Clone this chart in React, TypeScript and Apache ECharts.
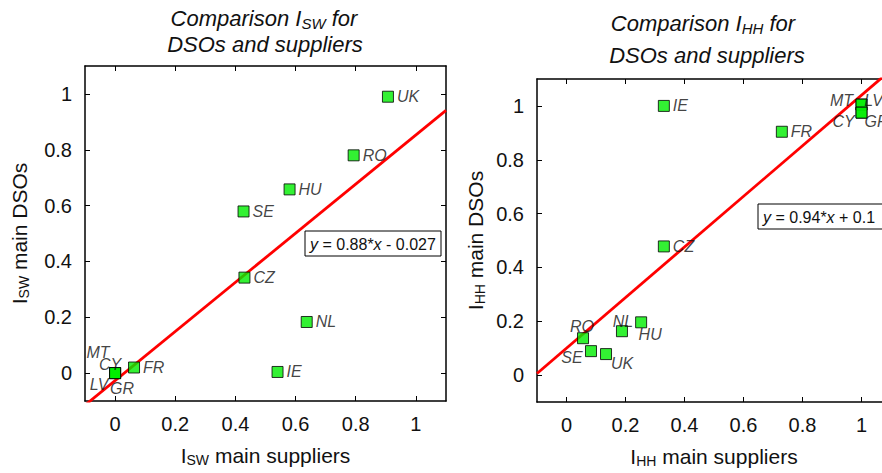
import React, { useEffect, useRef } from "react";
import * as echarts from "echarts";

// ---- Data ----
const SW_COUNTRIES = ["UK", "RO", "HU", "SE", "CZ", "NL", "IE", "FR", "MT", "CY", "LV", "GR"];
const SW_SUPPLIERS = [0.907, 0.793, 0.58, 0.427, 0.43, 0.637, 0.54, 0.063, 0, 0, 0, 0];
const SW_DSOS = [0.99, 0.78, 0.658, 0.579, 0.342, 0.183, 0.004, 0.02, 0, 0, 0, 0];
const SW_FIT = { slope: 0.88, intercept: -0.027 };

const HH_COUNTRIES = ["IE", "MT", "LV", "CY", "GR", "FR", "CZ", "RO", "SE", "UK", "NL", "HU"];
const HH_SUPPLIERS = [0.33, 1, 1, 1, 1, 0.73, 0.33, 0.056, 0.083, 0.134, 0.188, 0.253];
const HH_DSOS = [1.0, 1.005, 1.005, 0.975, 0.975, 0.904, 0.478, 0.137, 0.089, 0.078, 0.163, 0.196];
const HH_FIT = { slope: 0.94, intercept: 0.1 };

const TICK_VALUES = [0, 0.2, 0.4, 0.6, 0.8, 1];
const TICK_LABELS = ["0", "0.2", "0.4", "0.6", "0.8", "1"];
const AXIS_MIN = -0.1;
const AXIS_MAX = 1.1;

// ---- Styles ----
const FONT = "'Liberation Sans', Arial, Helvetica, sans-serif";
const TEXT = "#111111";
const GREEN = "#00ee00";

const SW_LABEL_POS: Record<string, any> = {
  UK: "right", RO: "right", HU: "right", SE: "right", CZ: "right", NL: "right", IE: "right", FR: "right",
  MT: [-17, -21], CY: [-5, -9], LV: [-16, 11], GR: [7, 15],
};
const HH_LABEL_POS: Record<string, any> = {
  IE: "right", FR: "right", CZ: "right",
  MT: [-20, -4], LV: [12, -4], CY: [-18, 9], GR: [15, 9],
  RO: [-1, -12], NL: [1, -10], HU: [9, 12], SE: [-19, 6], UK: [16, 9],
};

function buildPoints(names: string[], xs: number[], ys: number[], pos: Record<string, any>) {
  return names.map((n, i) => {
    const p = pos[n];
    const label =
      typeof p === "string"
        ? { show: true, position: p, distance: 3 }
        : { show: true, position: "inside", offset: p };
    return { name: n, value: [xs[i], ys[i]], label };
  });
}

function fitLine(f: { slope: number; intercept: number }) {
  return [AXIS_MIN, AXIS_MAX].map((x) => [x, f.slope * x + f.intercept]);
}

const tickLabelFmt = (v: number) => {
  const idx = TICK_VALUES.findIndex((t) => Math.abs(t - v) < 1e-9);
  return idx >= 0 ? TICK_LABELS[idx] : "";
};

const nameRich = {
  a: { fontSize: 21, fontFamily: FONT, color: TEXT },
  s: { fontSize: 14, fontFamily: FONT, color: TEXT, padding: [10, 0, 0, 0] },
};

function axisBase(gridIndex: number, position: string, showLabel: boolean) {
  return {
    type: "value",
    gridIndex,
    position,
    min: AXIS_MIN,
    max: AXIS_MAX,
    splitLine: { show: false },
    axisLine: { show: true, onZero: false, lineStyle: { color: "#000", width: 1.5 } },
    axisTick: { show: true, inside: true, length: 5, customValues: TICK_VALUES, lineStyle: { color: "#000", width: 1 } },
    axisLabel: {
      show: showLabel,
      customValues: TICK_VALUES,
      formatter: tickLabelFmt,
      fontSize: 20,
      fontFamily: FONT,
      color: TEXT,
      margin: 13,
    },
  };
}

export default function App() {
  const ref = useRef<HTMLDivElement>(null);

  useEffect(() => {
    if (!ref.current) return;
    const chart = echarts.init(ref.current, undefined, { renderer: "svg" });

    const labelStyle = { fontSize: 16, fontStyle: "italic", fontFamily: FONT, color: TEXT, formatter: "{b}" };
    const scatterBase = {
      type: "scatter",
      symbol: "rect",
      symbolSize: 11,
      itemStyle: { color: GREEN, borderColor: "#000", borderWidth: 1 },
      label: labelStyle,
      z: 5,
    };
    const lineBase = {
      type: "line",
      symbol: "none",
      clip: true,
      lineStyle: { color: "#ff0000", width: 2.8 },
      z: 3,
    };

    const titleText = (text: string, x: number, y: number) => ({
      type: "text",
      x,
      y,
      style: {
        text,
        align: "center",
        verticalAlign: "middle",
        fill: TEXT,
        font: `italic 22px ${FONT}`,
        rich: {
          i: { fontSize: 22, fontStyle: "italic", fontFamily: FONT, fill: TEXT },
          s: { fontSize: 15, fontStyle: "italic", fontFamily: FONT, fill: TEXT, padding: [10, 0, 0, 0] },
        },
      },
    });

    const eqBox = (x: number, y: number, w: number, text: string) => ({
      type: "group",
      children: [
        { type: "rect", shape: { x, y, width: w, height: 25 }, style: { fill: "#fff", stroke: "#000", lineWidth: 1 } },
        {
          type: "text",
          x: x + 5,
          y: y + 13,
          style: {
            text,
            align: "left",
            verticalAlign: "middle",
            fill: TEXT,
            font: `16px ${FONT}`,
            rich: {
              n: { fontSize: 16, fontFamily: FONT, fill: TEXT },
              i: { fontSize: 16, fontFamily: FONT, fontStyle: "italic", fill: TEXT },
            },
          },
        },
      ],
    });

    const fmtEq = (f: { slope: number; intercept: number }, interceptText: string) =>
      `{i|y}{n| = ${f.slope}*}{i|x}{n| ${f.intercept < 0 ? "-" : "+"} ${interceptText}}`;

    const option: any = {
      animation: false,
      backgroundColor: "#fff",
      grid: [
        { left: 85, top: 66, width: 361, height: 335 },
        { left: 537, top: 79, width: 354, height: 324 },
      ],
      xAxis: [
        {
          ...axisBase(0, "bottom", true),
          name: "{a|I}{s|SW}{a| main suppliers}",
          nameLocation: "middle",
          nameGap: 42,
          nameTextStyle: { rich: nameRich },
        },
        axisBase(0, "top", false),
        {
          ...axisBase(1, "bottom", true),
          name: "{a|I}{s|HH}{a| main suppliers}",
          nameLocation: "middle",
          nameGap: 42,
          nameTextStyle: { rich: nameRich },
        },
        axisBase(1, "top", false),
      ],
      yAxis: [
        {
          ...axisBase(0, "left", true),
          name: "{a|I}{s|SW}{a| main DSOs}",
          nameLocation: "middle",
          nameRotate: 90,
          nameGap: 54,
          nameTextStyle: { rich: nameRich },
        },
        axisBase(0, "right", false),
        {
          ...axisBase(1, "left", true),
          name: "{a|I}{s|HH}{a| main DSOs}",
          nameLocation: "middle",
          nameRotate: 90,
          nameGap: 50,
          nameTextStyle: { rich: nameRich },
        },
        axisBase(1, "right", false),
      ],
      series: [
        { ...lineBase, xAxisIndex: 0, yAxisIndex: 0, data: fitLine(SW_FIT) },
        { ...scatterBase, xAxisIndex: 0, yAxisIndex: 0, data: buildPoints(SW_COUNTRIES, SW_SUPPLIERS, SW_DSOS, SW_LABEL_POS) },
        { ...lineBase, xAxisIndex: 2, yAxisIndex: 2, data: fitLine(HH_FIT) },
        { ...scatterBase, xAxisIndex: 2, yAxisIndex: 2, data: buildPoints(HH_COUNTRIES, HH_SUPPLIERS, HH_DSOS, HH_LABEL_POS) },
      ],
      graphic: [
        titleText("{i|Comparison I}{s|SW}{i| for}", 264, 18),
        titleText("{i|DSOs and suppliers}", 265, 44),
        titleText("{i|Comparison I}{s|HH}{i| for}", 703, 23),
        titleText("{i|DSOs and suppliers}", 707, 55),
        eqBox(305, 231, 136, fmtEq(SW_FIT, "0.027")),
        eqBox(758, 204, 140, fmtEq(HH_FIT, "0.1")),
      ],
    };

    chart.setOption(option);
    return () => chart.dispose();
  }, []);

  return (
    <div style={{ position: "fixed", left: 0, top: 0, width: 882, height: 473, overflow: "hidden", background: "#fff" }}>
      <div ref={ref} style={{ width: 910, height: 473 }} />
    </div>
  );
}
